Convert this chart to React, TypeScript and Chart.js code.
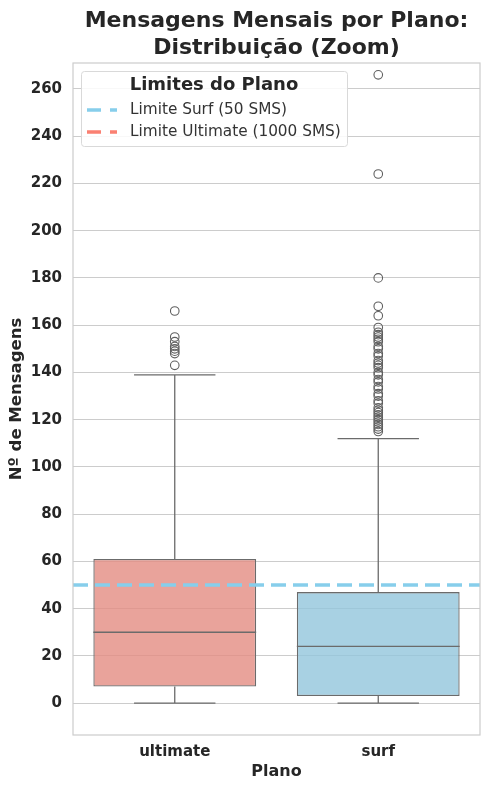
import React, { useEffect, useRef } from 'react';
import { Chart, registerables } from 'chart.js';

Chart.register(...registerables);

// categories and box statistics
const planos = ['ultimate', 'surf'];
const q1 = [7, 3];
const mediana = [30, 24];
const q3 = [61, 47];
const bigodeMin = [0, 0];
const bigodeMax = [139, 112];

const outliersUltimate = [143, 148, 149, 150, 151, 153, 155, 166];
const outliersSurf = [
    115, 116, 117, 118, 119, 120, 121, 122, 123, 124, 125, 127, 128, 130, 131, 133,
    134, 136, 137, 139, 140, 142, 143, 144, 145, 147, 148, 150, 151, 153, 154, 155,
    156, 157, 159, 164, 168, 180, 224, 266,
];

const limites = [
    { label: 'Limite Surf (50 SMS)', valor: 50, cor: '#87ceeb' },
    { label: 'Limite Ultimate (1000 SMS)', valor: 1000, cor: '#fa8072' },
];

const yTicks = [0, 20, 40, 60, 80, 100, 120, 140, 160, 180, 200, 220, 240, 260];

const boxColors = ['rgba(228, 140, 130, 0.8)', 'rgba(146, 197, 220, 0.8)'];
const edge = '#6b6b6b';
const textColor = '#262626';
const FONT = '"DejaVu Sans", sans-serif';

const boxPlugin = {
    id: 'boxExtras',
    beforeDatasetsDraw(chart: any) {
        const { ctx } = chart;
        const x = chart.scales.x;
        const y = chart.scales.y;
        const half = (x.getPixelForValue(1) - x.getPixelForValue(0)) * 0.2;
        ctx.save();
        ctx.strokeStyle = edge;
        ctx.lineWidth = 1.3;
        planos.forEach((_, i) => {
            const cx = x.getPixelForValue(i);
            ctx.beginPath();
            ctx.moveTo(cx, y.getPixelForValue(q3[i]));
            ctx.lineTo(cx, y.getPixelForValue(bigodeMax[i]));
            ctx.moveTo(cx - half, y.getPixelForValue(bigodeMax[i]));
            ctx.lineTo(cx + half, y.getPixelForValue(bigodeMax[i]));
            ctx.moveTo(cx, y.getPixelForValue(q1[i]));
            ctx.lineTo(cx, y.getPixelForValue(bigodeMin[i]));
            ctx.moveTo(cx - half, y.getPixelForValue(bigodeMin[i]));
            ctx.lineTo(cx + half, y.getPixelForValue(bigodeMin[i]));
            ctx.stroke();
        });
        ctx.restore();
    },
    afterDatasetsDraw(chart: any) {
        const { ctx, chartArea } = chart;
        const x = chart.scales.x;
        const y = chart.scales.y;
        const half = (x.getPixelForValue(1) - x.getPixelForValue(0)) * 0.4;
        ctx.save();
        ctx.strokeStyle = edge;
        ctx.lineWidth = 1.3;
        planos.forEach((_, i) => {
            const cx = x.getPixelForValue(i);
            const py = y.getPixelForValue(mediana[i]);
            ctx.beginPath();
            ctx.moveTo(cx - half, py);
            ctx.lineTo(cx + half, py);
            ctx.stroke();
        });
        // limit lines
        ctx.beginPath();
        ctx.rect(chartArea.left, chartArea.top, chartArea.right - chartArea.left, chartArea.bottom - chartArea.top);
        ctx.clip();
        ctx.lineWidth = 3.4;
        ctx.setLineDash([15, 7]);
        limites.forEach((l) => {
            const py = y.getPixelForValue(l.valor);
            ctx.strokeStyle = l.cor;
            ctx.beginPath();
            ctx.moveTo(chartArea.left, py);
            ctx.lineTo(chartArea.right, py);
            ctx.stroke();
        });
        ctx.restore();
    },
    afterDraw(chart: any) {
        const { ctx, chartArea } = chart;
        ctx.save();
        // frame
        ctx.strokeStyle = '#cccccc';
        ctx.lineWidth = 1.2;
        ctx.strokeRect(chartArea.left, chartArea.top, chartArea.right - chartArea.left, chartArea.bottom - chartArea.top);

        // title
        const tx = (chartArea.left + chartArea.right) / 2;
        ctx.fillStyle = textColor;
        ctx.textAlign = 'center';
        ctx.textBaseline = 'alphabetic';
        ctx.font = `bold 22px ${FONT}`;
        ctx.fillText('Mensagens Mensais por Plano:', tx, 27);
        ctx.fillText('Distribuição (Zoom)', tx, 54);

        // legend
        const lx = 81, ly = 71, lw = 266, lh = 75;
        ctx.fillStyle = 'rgba(255,255,255,0.85)';
        ctx.strokeStyle = '#d9d9d9';
        ctx.lineWidth = 1;
        ctx.beginPath();
        ctx.roundRect(lx + 0.5, ly + 0.5, lw, lh, 3);
        ctx.fill();
        ctx.stroke();
        ctx.fillStyle = textColor;
        ctx.font = `bold 18px ${FONT}`;
        ctx.textBaseline = 'middle';
        ctx.fillText('Limites do Plano', 214, 85);
        ctx.textAlign = 'left';
        ctx.font = `15.3px ${FONT}`;
        limites.forEach((l, i) => {
            const iy = 110 + i * 22;
            ctx.strokeStyle = l.cor;
            ctx.lineWidth = 3.4;
            ctx.setLineDash([14, 9]);
            ctx.beginPath();
            ctx.moveTo(87, iy);
            ctx.lineTo(117, iy);
            ctx.stroke();
            ctx.setLineDash([]);
            ctx.fillStyle = '#333333';
            ctx.fillText(l.label, 130, iy);
        });
        ctx.restore();
    },
};

const App = () => {
    const canvasRef = useRef<HTMLCanvasElement | null>(null);

    useEffect(() => {
        document.body.style.margin = '0';
        const canvas = canvasRef.current;
        if (!canvas) return;
        const ctx = canvas.getContext('2d');
        if (!ctx) return;

        const chart = new Chart(ctx, {
            type: 'bar',
            data: {
                labels: planos,
                datasets: [
                    {
                        type: 'bar',
                        label: 'caixas',
                        data: planos.map((_, i) => [q1[i], q3[i]]) as any,
                        backgroundColor: boxColors,
                        borderColor: edge,
                        borderWidth: 1.3,
                        borderSkipped: false,
                        barPercentage: 0.8,
                        categoryPercentage: 1.0,
                        order: 2,
                    } as any,
                    {
                        type: 'line',
                        label: 'outliers',
                        data: [
                            ...outliersUltimate.map((v) => ({ x: 'ultimate', y: v })),
                            ...outliersSurf.map((v) => ({ x: 'surf', y: v })),
                        ] as any,
                        showLine: false,
                        pointRadius: 4.3,
                        pointBorderWidth: 1.1,
                        pointBackgroundColor: 'rgba(0,0,0,0)',
                        pointBorderColor: '#5f5f5f',
                        order: 1,
                    } as any,
                ],
            },
            options: {
                responsive: false,
                animation: false,
                layout: { padding: { top: 63, right: 10, left: 0, bottom: 0 } },
                plugins: {
                    legend: { display: false },
                    tooltip: { enabled: false },
                    title: { display: false },
                },
                scales: {
                    x: {
                        type: 'category',
                        offset: true,
                        grid: { display: false, drawTicks: false },
                        border: { display: false },
                        ticks: { color: textColor, font: { family: FONT, size: 15, weight: 'bold' }, padding: 8 },
                        title: {
                            display: true,
                            text: 'Plano',
                            color: textColor,
                            font: { family: FONT, size: 16, weight: 'bold' },
                            padding: { top: 2, bottom: 8.4 },
                        },
                        afterFit: (scale: any) => {
                            scale.height = 55;
                        },
                    },
                    y: {
                        min: -13.5,
                        max: 271,
                        afterBuildTicks: (scale: any) => {
                            scale.ticks = yTicks.map((v) => ({ value: v }));
                        },
                        grid: { color: '#cccccc', lineWidth: 1, drawTicks: false },
                        border: { display: false },
                        ticks: { color: textColor, font: { family: FONT, size: 15, weight: 'bold' }, padding: 11 },
                        title: {
                            display: true,
                            text: 'Nº de Mensagens',
                            color: textColor,
                            font: { family: FONT, size: 16.5, weight: 'bold' },
                            padding: { top: 7, bottom: 0 },
                        },
                        afterFit: (scale: any) => {
                            scale.width = 73;
                        },
                    },
                },
            } as any,
            plugins: [boxPlugin],
        });

        return () => {
            chart.destroy();
        };
    }, []);

    return (
        <div style={{ width: 490, height: 790, background: '#ffffff' }}>
            <canvas ref={canvasRef} width={490} height={790} style={{ width: 490, height: 790 }}></canvas>
        </div>
    );
};

export default App;
